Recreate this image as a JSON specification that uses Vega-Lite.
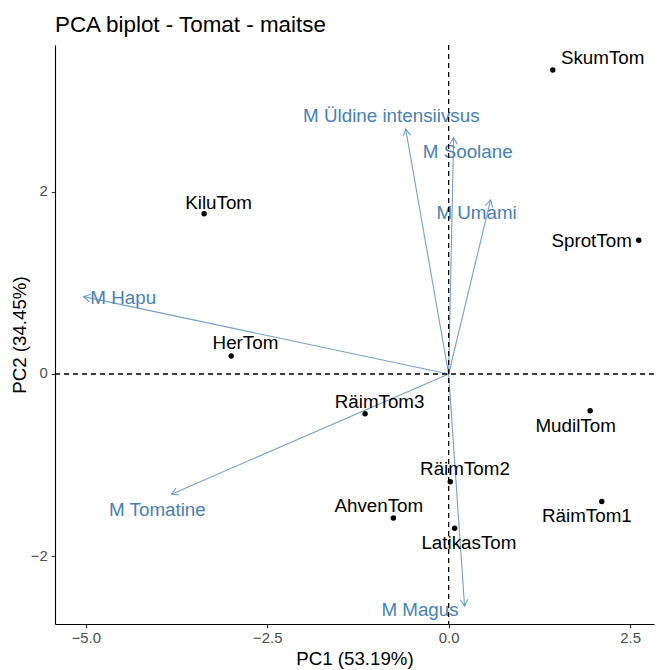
{
  "$schema": "https://vega.github.io/schema/vega-lite/v6.json",
  "autosize": {"type": "none"},
  "padding": {"left": 55, "top": 45, "right": 6, "bottom": 46},
  "width": 599,
  "height": 579,
  "title": {"text": "PCA biplot - Tomat - maitse", "anchor": "start", "frame": "group", "font": "Liberation Sans", "fontSize": 22.4, "fontWeight": "normal", "color": "black", "baseline": "bottom", "offset": 11, "dy": 26},
  "config": {
    "view": {"stroke": null},
    "font": "Liberation Sans",
    "axis": {"grid": false, "domainColor": "black", "domainWidth": 1.1, "tickColor": "#333333", "tickSize": 3.7, "tickWidth": 1.1, "labelColor": "#4D4D4D", "labelFontSize": 14.9, "labelFont": "Liberation Sans", "titleFont": "Liberation Sans", "titleFontSize": 18.7, "titleFontWeight": "normal", "titleColor": "black", "labelPadding": 3}
  },
  "datasets": {
    "obs": [
      {"name": "SkumTom", "PC1": 1.435, "PC2": 3.34, "labX": 2.123, "labY": 3.47},
      {"name": "KiluTom", "PC1": -3.37, "PC2": 1.76, "labX": -3.17, "labY": 1.88},
      {"name": "SprotTom", "PC1": 2.62, "PC2": 1.47, "labX": 1.97, "labY": 1.46},
      {"name": "HerTom", "PC1": -2.997, "PC2": 0.198, "labX": -2.8, "labY": 0.34},
      {"name": "RäimTom3", "PC1": -1.152, "PC2": -0.436, "labX": -0.952, "labY": -0.305},
      {"name": "MudilTom", "PC1": 1.95, "PC2": -0.403, "labX": 1.75, "labY": -0.568},
      {"name": "RäimTom2", "PC1": 0.022, "PC2": -1.183, "labX": 0.225, "labY": -1.047},
      {"name": "RäimTom1", "PC1": 2.11, "PC2": -1.4, "labX": 1.905, "labY": -1.564},
      {"name": "AhvenTom", "PC1": -0.762, "PC2": -1.582, "labX": -0.963, "labY": -1.45},
      {"name": "LatikasTom", "PC1": 0.082, "PC2": -1.696, "labX": 0.279, "labY": -1.86}
    ],
    "vars": [
      {"name": "M Üldine intensiivsus", "x0": 0, "y0": 0, "PC1": -0.592, "PC2": 2.69, "labX": -0.79, "labY": 2.83},
      {"name": "M Soolane", "x0": 0, "y0": 0, "PC1": 0.069, "PC2": 2.597, "labX": 0.263, "labY": 2.443},
      {"name": "M Umami", "x0": 0, "y0": 0, "PC1": 0.578, "PC2": 1.912, "labX": 0.385, "labY": 1.766},
      {"name": "M Hapu", "x0": 0, "y0": 0, "PC1": -5.03, "PC2": 0.85, "labX": -4.485, "labY": 0.838},
      {"name": "M Tomatine", "x0": 0, "y0": 0, "PC1": -3.82, "PC2": -1.32, "labX": -4.014, "labY": -1.495},
      {"name": "M Magus", "x0": 0, "y0": 0, "PC1": 0.219, "PC2": -2.55, "labX": -0.395, "labY": -2.593}
    ],
    "origin": [{"v": 0}]
  },
  "layer": [
    {
      "data": {"name": "obs"},
      "mark": {"type": "point", "filled": true, "color": "black", "size": 30, "opacity": 1},
      "encoding": {
        "x": {"field": "PC1", "type": "quantitative", "scale": {"domain": [-5.425, 2.83], "nice": false, "zero": false}, "axis": {"values": [-5, -2.5, 0, 2.5], "format": ".1f", "title": "PC1 (53.19%)", "titlePadding": 4}},
        "y": {"field": "PC2", "type": "quantitative", "scale": {"domain": [-2.747, 3.615], "nice": false, "zero": false}, "axis": {"values": [-2, 0, 2], "format": "d", "title": "PC2 (34.45%)", "titlePadding": 1, "labelPadding": 4}}
      }
    },
    {
      "data": {"name": "vars"},
      "mark": {"type": "rule", "color": "steelblue", "strokeWidth": 1.1, "opacity": 0.75},
      "encoding": {
        "x": {"field": "x0", "type": "quantitative"},
        "y": {"field": "y0", "type": "quantitative"},
        "x2": {"field": "PC1"},
        "y2": {"field": "PC2"}
      }
    },
    {
      "data": {"name": "vars"},
      "transform": [{"calculate": "atan2(datum.PC1 * 72.56, datum.PC2 * 91.01) * 180 / PI", "as": "ang"}],
      "mark": {"type": "point", "shape": "M-0.5,0.87L0,0L0.5,0.87", "filled": false, "color": "steelblue", "strokeWidth": 1.1, "size": 230, "opacity": 0.75},
      "encoding": {
        "x": {"field": "PC1", "type": "quantitative"},
        "y": {"field": "PC2", "type": "quantitative"},
        "angle": {"field": "ang", "type": "quantitative", "scale": null}
      }
    },
    {
      "data": {"name": "vars"},
      "mark": {"type": "text", "color": "steelblue", "font": "Liberation Sans", "fontSize": 18.8, "align": "center", "baseline": "middle"},
      "encoding": {
        "x": {"field": "labX", "type": "quantitative"},
        "y": {"field": "labY", "type": "quantitative"},
        "text": {"field": "name", "type": "nominal"}
      }
    },
    {
      "data": {"name": "obs"},
      "mark": {"type": "text", "color": "black", "font": "Liberation Sans", "fontSize": 18.8, "align": "center", "baseline": "middle"},
      "encoding": {
        "x": {"field": "labX", "type": "quantitative"},
        "y": {"field": "labY", "type": "quantitative"},
        "text": {"field": "name", "type": "nominal"}
      }
    },
    {
      "data": {"name": "origin"},
      "mark": {"type": "rule", "color": "black", "strokeDash": [5, 4], "strokeWidth": 1.3},
      "encoding": {"x": {"field": "v", "type": "quantitative"}}
    },
    {
      "data": {"name": "origin"},
      "mark": {"type": "rule", "color": "black", "strokeDash": [5, 4], "strokeWidth": 1.3},
      "encoding": {"y": {"field": "v", "type": "quantitative"}}
    }
  ]
}
